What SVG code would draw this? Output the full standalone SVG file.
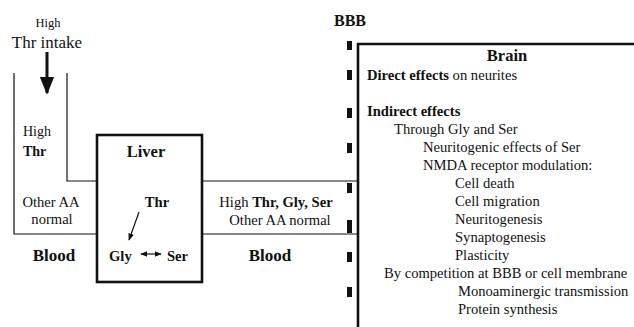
<svg xmlns="http://www.w3.org/2000/svg" width="634" height="327" viewBox="0 0 634 327">
<defs>
<style>
text{font-family:"Liberation Serif","Times New Roman",serif;fill:#111;font-size:14.6px}
.b{font-weight:bold}
.t{font-size:16.5px;font-weight:bold}
.thin{stroke:#111;stroke-width:1.2;fill:none}
.thick{stroke:#111;stroke-width:2.6;fill:none}
.dash{fill:#111}
</style>
<marker id="head" viewBox="0 0 10 10" refX="9" refY="5" markerWidth="6" markerHeight="6" orient="auto-start-reverse"><path d="M0,1 L10,5 L0,9 z" fill="#111"/></marker>
</defs>
<rect width="634" height="327" fill="#fff"/>
<g id="intake">
<text x="48" y="27" text-anchor="middle" style="font-size:12.5px">High</text>
<text x="47" y="48" text-anchor="middle" style="font-size:17px">Thr intake</text>
</g>
<g id="blood-left">
<path class="thin" d="M14,73 V234 H97"/>
<path class="thin" d="M67,73 V181 H97"/>
<text x="23" y="136" style="font-size:14px">High</text>
<text x="23" y="156" class="b" style="font-size:14px">Thr</text>
<text x="51" y="207" text-anchor="middle">Other AA</text>
<text x="52" y="224" text-anchor="middle">normal</text>
<text x="54" y="261" text-anchor="middle" class="t" style="font-size:17px">Blood</text>
</g>
<g id="liver">
<rect x="97" y="135" width="105" height="147" class="thick"/>
<text x="146" y="157" text-anchor="middle" class="t">Liver</text>
<text x="157" y="207" text-anchor="middle" class="b">Thr</text>
<text x="109" y="261" class="b">Gly</text>
<text x="167" y="261" class="b">Ser</text>
</g>
<g id="blood-right">
<path class="thin" d="M202,181 H358 M202,234 H358"/>
<text x="276" y="207" text-anchor="middle">High <tspan class="b">Thr, Gly, Ser</tspan></text>
<text x="280" y="225" text-anchor="middle">Other AA normal</text>
<text x="270" y="261" text-anchor="middle" class="t" style="font-size:17px">Blood</text>
</g>
<g id="bbb">
<text x="350" y="26" text-anchor="middle" class="t" style="font-size:16px">BBB</text>
<rect class="dash" x="347" y="41" width="5" height="9"/>
<rect class="dash" x="347" y="70" width="5" height="10"/>
<rect class="dash" x="347" y="108" width="5" height="10"/>
<rect class="dash" x="347" y="143" width="5" height="10"/>
<rect class="dash" x="347" y="183" width="5" height="10"/>
<rect class="dash" x="347" y="220" width="5" height="13"/>
<rect class="dash" x="347" y="252" width="5" height="10"/>
<rect class="dash" x="347" y="287" width="5" height="10"/>
</g>
<g id="brain">
<path class="thick" d="M358,327 V44 H634"/>
<text x="507" y="61" text-anchor="middle" class="t">Brain</text>
<text x="367" y="80"><tspan class="b">Direct effects</tspan> on neurites</text>
<text x="367" y="116" class="b">Indirect effects</text>
<text x="394" y="134">Through Gly and Ser</text>
<text x="423" y="152">Neuritogenic effects of Ser</text>
<text x="423" y="170">NMDA receptor modulation:</text>
<text x="455" y="188">Cell death</text>
<text x="455" y="206">Cell migration</text>
<text x="455" y="224">Neuritogenesis</text>
<text x="455" y="242">Synaptogenesis</text>
<text x="455" y="260">Plasticity</text>
<text x="384" y="278">By competition at BBB or cell membrane</text>
<text x="458" y="296">Monoaminergic transmission</text>
<text x="458" y="314">Protein synthesis</text>
</g>
<g id="connectors">
<path d="M47,52 V93" stroke="#111" stroke-width="3" fill="none" marker-end="url(#head)"/>
<path d="M139,212 L129,240" class="thin" marker-end="url(#head)"/>
<path d="M141,254 H161" class="thin" marker-start="url(#head)" marker-end="url(#head)"/>
</g>
</svg>
